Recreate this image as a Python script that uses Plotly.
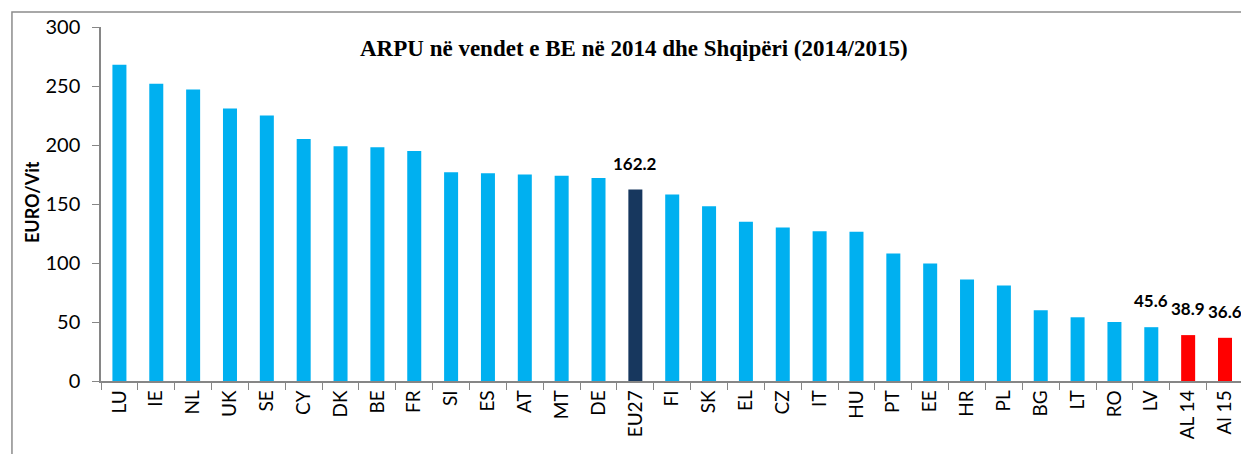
import plotly.graph_objects as go

# ARPU ne vendet e BE (2014) dhe Shqiperi (2014/2015), EURO/Vit
vendet = ['LU', 'IE', 'NL', 'UK', 'SE', 'CY', 'DK', 'BE', 'FR', 'SI', 'ES', 'AT', 'MT', 'DE',
          'EU27', 'FI', 'SK', 'EL', 'CZ', 'IT', 'HU', 'PT', 'EE', 'HR', 'PL', 'BG', 'LT', 'RO',
          'LV', 'AL 14', 'Al 15']
arpu = [268, 252, 247, 231, 225, 205, 199, 198, 195, 177, 176, 175, 174, 172,
        162.2, 158, 148, 135, 130, 127, 126.5, 108, 99.5, 86, 81, 60, 54, 50,
        45.6, 38.9, 36.6]
me_etikete = ['EU27', 'LV', 'AL 14', 'Al 15']

ngjyrat = []
for v in vendet:
    if v == 'EU27':
        ngjyrat.append('#17375E')
    elif v.upper().startswith('AL'):
        ngjyrat.append('#FF0000')
    else:
        ngjyrat.append('#00B0F0')

fig = go.Figure(go.Bar(x=vendet, y=arpu, marker_color=ngjyrat, marker_line_width=0, width=0.38))

# etiketat e vlerave
for v, a in zip(vendet, arpu):
    if v in me_etikete:
        fig.add_annotation(x=v, y=a, text='<b>%.1f</b>' % a, showarrow=False,
                           yanchor='bottom', yshift=14,
                           font=dict(family='Lato, Open Sans, sans-serif', size=17, color='black'))

fig.add_annotation(xref='paper', yref='paper', x=0.4665, y=0.94,
                   text='<b>ARPU në vendet e BE në 2014 dhe Shqipëri (2014/2015)</b>',
                   showarrow=False, xanchor='center', yanchor='middle',
                   font=dict(family='Liberation Serif, Times New Roman, serif', size=23, color='black'))

fig.add_annotation(xref='paper', yref='paper', x=-0.0605, y=0.505, text='<b>EURO/Vit</b>',
                   textangle=-90, showarrow=False, xanchor='center', yanchor='middle',
                   font=dict(family='Lato, Open Sans, sans-serif', size=18, color='black'))

# korniza e jashtme
fig.add_shape(type='rect', xref='paper', yref='paper', x0=-0.0779, y0=-0.6, x1=1.5, y1=1.0424,
              line=dict(color='#8c8c8c', width=1.5), layer='below')

# faqja ka 8px margin ne body
fig.update_layout(
    width=1241, height=446,
    margin=dict(l=93, r=5, t=19, b=73),
    paper_bgcolor='white', plot_bgcolor='white',
    showlegend=False, bargap=0.62,
    font=dict(family='Lato, Open Sans, sans-serif', size=19, color='black'),
)
fig.update_yaxes(range=[0, 300], dtick=50, showgrid=False, zeroline=False, automargin=False,
                 showline=True, linecolor='#868686', linewidth=1.5,
                 ticks='outside', ticklen=7, tickcolor='#868686', ticklabelstandoff=8,
                 tickfont=dict(size=20))
fig.update_xaxes(showgrid=False, showline=True, linecolor='#868686', linewidth=1.5, automargin=False,
                 ticks='outside', ticklen=7, tickcolor='#868686', tickson='boundaries',
                 tickangle=-90, tickfont=dict(size=19))

fig.write_html('out.html')
